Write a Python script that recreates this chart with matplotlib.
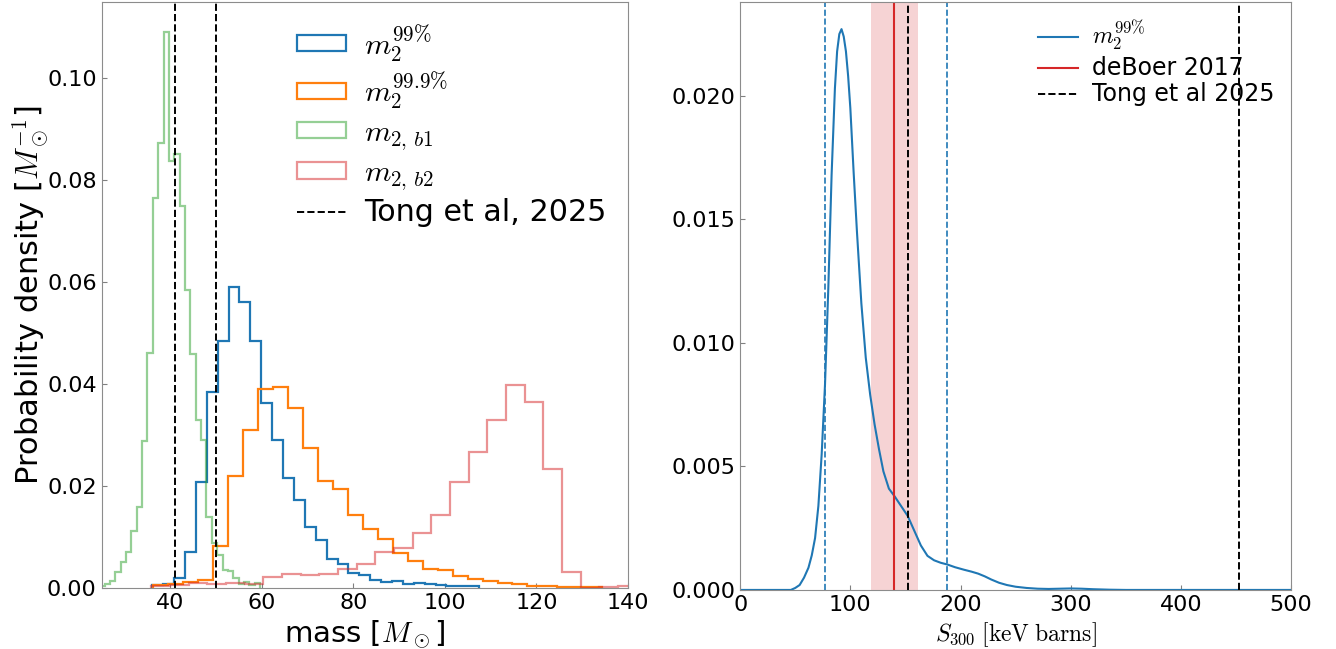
import matplotlib
matplotlib.use("Agg")
import matplotlib.pyplot as plt

plt.rcParams['mathtext.fontset'] = 'cm'
plt.rcParams['font.family'] = ['DejaVu Sans']

# ---------------- Left panel: mass histograms (density, 30 bins each) ----------------
m99_edges = [36.1, 38.48, 40.86, 43.24, 45.62, 48.0, 50.38, 52.76, 55.14, 57.52, 59.9,
             62.28, 64.66, 67.04, 69.42, 71.8, 74.18, 76.56, 78.94, 81.32, 83.7,
             86.08, 88.46, 90.84, 93.22, 95.6, 97.98, 100.36, 102.74, 105.12, 107.5]
m99_vals = [0.0006, 0.0007, 0.0019, 0.0071, 0.0208, 0.0385, 0.0484, 0.0590, 0.0560, 0.0484,
            0.0363, 0.0290, 0.0215, 0.0173, 0.0120, 0.0094, 0.0056, 0.0048, 0.0030, 0.0025,
            0.0016, 0.0012, 0.0014, 0.0008, 0.0010, 0.0008, 0.0005, 0.0004, 0.0003, 0.0003]

m999_edges = [36.3, 39.57, 42.84, 46.11, 49.38, 52.65, 55.92, 59.19, 62.46, 65.73, 69.0,
              72.27, 75.54, 78.81, 82.08, 85.35, 88.62, 91.89, 95.16, 98.43, 101.7,
              104.97, 108.24, 111.51, 114.78, 118.05, 121.32, 124.59, 127.86, 131.13, 134.4]
m999_vals = [0.0005, 0.0007, 0.0012, 0.0015, 0.0082, 0.0219, 0.0310, 0.0391, 0.0394, 0.0352,
             0.0274, 0.0210, 0.0195, 0.0143, 0.0115, 0.0097, 0.0069, 0.0053, 0.0038, 0.0035,
             0.0024, 0.0017, 0.0013, 0.0009, 0.0007, 0.0004, 0.0003, 0.0002, 0.0002, 0.0001]

mb1_edges = [24.5, 25.67, 26.84, 28.01, 29.18, 30.36, 31.53, 32.70, 33.87, 35.04, 36.21,
             37.38, 38.55, 39.72, 40.89, 42.07, 43.24, 44.41, 45.58, 46.75, 47.92,
             49.09, 50.26, 51.43, 52.60, 53.78, 54.95, 56.12, 57.29, 58.46, 59.63]
mb1_vals = [0.0004, 0.0008, 0.0013, 0.0031, 0.0051, 0.0071, 0.0112, 0.0159, 0.0288, 0.0461,
            0.0764, 0.0873, 0.1090, 0.0837, 0.0850, 0.0748, 0.0584, 0.0458, 0.0330, 0.0290,
            0.0139, 0.0088, 0.0064, 0.0035, 0.0034, 0.0019, 0.0007, 0.0011, 0.0006, 0.0010]

mb2_edges = [35.87, 39.95, 44.03, 48.11, 52.19, 56.27, 60.35, 64.43, 68.51, 72.59, 76.67,
             80.75, 84.83, 88.91, 92.99, 97.07, 101.15, 105.23, 109.31, 113.39, 117.47,
             121.55, 125.63, 129.71, 133.79, 137.87, 141.95, 146.03, 150.11, 154.19, 158.27]
mb2_vals = [0.0003, 0.0006, 0.0009, 0.0007, 0.0009, 0.0008, 0.0022, 0.0027, 0.0025, 0.0028,
            0.0037, 0.0048, 0.0071, 0.0079, 0.0108, 0.0143, 0.0207, 0.0267, 0.0329, 0.0398,
            0.0365, 0.0234, 0.0032, 0.0000, 0.0001, 0.0004, 0.0003, 0.0002, 0.0001, 0.0001]

tong_mass = [41.0, 50.0]

# ---------------- Right panel: S300 KDE ----------------
s300_x = [0, 20, 40, 46, 50, 54, 58, 62, 65, 68, 71, 74, 77, 80, 83, 86, 88, 90, 92, 94,
          96, 98, 100, 103, 106, 110, 114, 118, 122, 126, 130, 135, 140, 146, 152, 158,
          164, 170, 176, 182, 188, 195, 203, 210, 216, 222, 228, 235, 242, 250, 260, 270,
          280, 290, 300, 310, 320, 335, 350, 400, 450, 500]
s300_y = [0.0, 0.0, 0.0, 0.0, 0.00008, 0.0002, 0.0005, 0.0009, 0.0014, 0.0021, 0.0034,
          0.0055, 0.0083, 0.0122, 0.0168, 0.0203, 0.0218, 0.0225, 0.0227, 0.0224, 0.0218,
          0.0208, 0.0195, 0.0169, 0.0145, 0.0116, 0.0094, 0.0079, 0.0067, 0.0057, 0.0048,
          0.0041, 0.0038, 0.0034, 0.0030, 0.0024, 0.0018, 0.00138, 0.00120, 0.00110,
          0.00103, 0.00092, 0.00082, 0.00074, 0.00066, 0.00055, 0.00042, 0.00029, 0.00020,
          0.00013, 0.00008, 0.00005, 0.00004, 0.00005, 0.00006, 0.00005, 0.00003, 0.00001,
          0.0, 0.0, 0.0, 0.0]
s300_ci = [77, 188]
deboer = 140
deboer_err = 21
tong_s300 = [152, 453]

fig = plt.figure(figsize=(13.36, 6.49), dpi=100)
ax1 = fig.add_axes([0.076, 0.094, 0.394, 0.903])
ax2 = fig.add_axes([0.554, 0.091, 0.4124, 0.906])

series = [
    (m99_edges, m99_vals, 'C0', 1.0, r'$m_2^{99\%}$'),
    (m999_edges, m999_vals, 'C1', 1.0, r'$m_2^{99.9\%}$'),
    (mb1_edges, mb1_vals, 'C2', 0.5, r'$m_{2,\,b1}$'),
    (mb2_edges, mb2_vals, 'C3', 0.5, r'$m_{2,\,b2}$'),
]
for edges, vals, col, a, lab in series:
    ax1.hist(edges[:-1], bins=edges, weights=vals, histtype='step', color=col,
             alpha=a, lw=1.6, label=lab)
for i, m in enumerate(tong_mass):
    ax1.axvline(m, color='k', ls='--', lw=1.4, label='Tong et al, 2025' if i == 0 else None)

ax1.set_xlim(25, 140)
ax1.set_ylim(0, 0.1149)
ax1.set_yticks([0.0, 0.02, 0.04, 0.06, 0.08, 0.10])
ax1.set_xlabel(r'mass [$M_\odot$]', fontsize=21)
ax1.set_ylabel(r'Probability density [$M_\odot^{-1}$]', fontsize=22, labelpad=-3)
ax1.legend(loc='upper right', frameon=False, fontsize=21.7, handlelength=1.65,
           handletextpad=0.6, handleheight=0.45, labelspacing=0.2,
           borderaxespad=0.3)

ax2.plot(s300_x, s300_y, color='C0', lw=1.5, label=r'$m_2^{99\%}$')
for v in s300_ci:
    ax2.axvline(v, color='C0', ls='--', lw=1.2)
ax2.axvspan(deboer - deboer_err, deboer + deboer_err, color='C3', alpha=0.2, lw=0)
ax2.axvline(deboer, color='C3', lw=1.5, label='deBoer 2017')
for i, v in enumerate(tong_s300):
    ax2.axvline(v, color='k', ls='--', lw=1.4, label='Tong et al 2025' if i == 0 else None)
ax2.set_xlim(0, 500)
ax2.set_ylim(0, 0.0238)
ax2.set_yticks([0.0, 0.005, 0.010, 0.015, 0.020])
ax2.set_xlabel(r'$S_{300}\;[\mathrm{keV\;barns}]$', fontsize=17)
ax2.legend(loc='upper right', frameon=False, fontsize=17, handlelength=1.7,
           handletextpad=0.6, handleheight=0.45, labelspacing=0.1,
           borderaxespad=0.3)

for ax in (ax1, ax2):
    ax.tick_params(labelsize=16, direction='in', color='0.5')
    for sp in ax.spines.values():
        sp.set_color('0.55')

fig.savefig('out.png', dpi=100)
